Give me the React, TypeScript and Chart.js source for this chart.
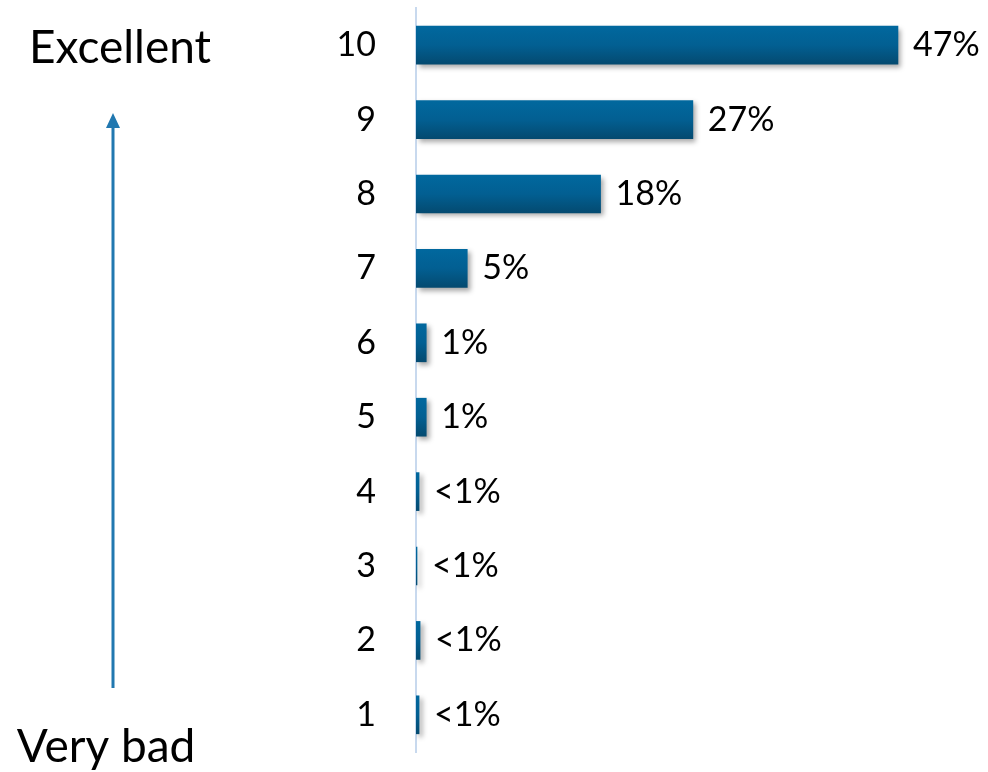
import React, { useEffect, useRef } from "react";
import { Chart, registerables } from "chart.js";

Chart.register(...registerables);

const categories = ["10", "9", "8", "7", "6", "5", "4", "3", "2", "1"];
const shares = [47, 27, 18, 5, 1, 1, 0.3, 0.1, 0.4, 0.3];
const valueLabels = ["47%", "27%", "18%", "5%", "1%", "1%", "<1%", "<1%", "<1%", "<1%"];
const topLabel = "Excellent";
const bottomLabel = "Very bad";

const FONT = "Lato, 'Open Sans', sans-serif";

const decorPlugin = {
  id: "decor",
  beforeDatasetsDraw(chart: any) {
    const ctx = chart.ctx;
    ctx.save();
    ctx.shadowColor = "rgba(0,0,0,0.35)";
    ctx.shadowOffsetX = 3;
    ctx.shadowOffsetY = 3;
    ctx.shadowBlur = 5;
  },
  afterDatasetsDraw(chart: any) {
    const ctx = chart.ctx;
    ctx.restore();
    const meta = chart.getDatasetMeta(0);
    ctx.save();
    ctx.font = `34px ${FONT}`;
    ctx.fillStyle = "#000";
    ctx.textAlign = "left";
    ctx.textBaseline = "middle";
    meta.data.forEach((el: any, i: number) => {
      ctx.fillText(valueLabels[i], el.x + 15, el.y);
    });
    ctx.restore();
  },
  afterDraw(chart: any) {
    const ctx = chart.ctx;
    ctx.save();
    ctx.font = `46px ${FONT}`;
    ctx.fillStyle = "#000";
    ctx.textAlign = "center";
    ctx.textBaseline = "alphabetic";
    ctx.fillText(topLabel, 120, 63);
    ctx.fillText(bottomLabel, 106, 762);
    // arrow
    ctx.strokeStyle = "#2178b0";
    ctx.fillStyle = "#2178b0";
    ctx.lineWidth = 3;
    ctx.beginPath();
    ctx.moveTo(113, 688);
    ctx.lineTo(113, 124);
    ctx.stroke();
    ctx.beginPath();
    ctx.moveTo(113, 113);
    ctx.lineTo(106, 128);
    ctx.lineTo(120, 128);
    ctx.closePath();
    ctx.fill();
    ctx.restore();
  },
};

export default function App() {
  const ref = useRef<HTMLCanvasElement | null>(null);

  useEffect(() => {
    if (!ref.current) return;
    const chart = new Chart(ref.current, {
      type: "bar",
      data: {
        labels: categories,
        datasets: [
          {
            data: shares,
            backgroundColor: (c: any) => {
              const ch = c.chart;
              if (!ch.chartArea || c.type !== "data" || !ch.scales.y) return "#02609a";
              const y = ch.scales.y.getPixelForValue(c.dataIndex);
              const g = ch.ctx.createLinearGradient(0, y - 19, 0, y + 19);
              g.addColorStop(0, "#01689e");
              g.addColorStop(0.5, "#025f92");
              g.addColorStop(1, "#044a70");
              return g;
            },
            borderWidth: 0,
            barThickness: 38,
          },
        ],
      },
      options: {
        indexAxis: "y",
        animation: false,
        responsive: true,
        maintainAspectRatio: false,
        layout: { padding: { top: 8, bottom: 20, left: 0, right: 8 } },
        plugins: {
          legend: { display: false },
          tooltip: { enabled: false },
          title: { display: false },
        },
        scales: {
          x: {
            display: false,
            min: 0,
            max: 55,
          },
          y: {
            afterFit: (scale: any) => {
              scale.width = 416;
              scale.paddingTop = 0;
              scale.paddingBottom = 0;
            },
            grid: { color: "transparent", drawTicks: false },
            border: { display: true, color: "#c8d9ee", width: 2 },
            ticks: {
              padding: 40,
              color: "#000",
              font: { family: FONT, size: 34 },
            },
          },
        },
      },
      plugins: [decorPlugin],
    } as any);
    return () => chart.destroy();
  }, []);

  return (
    <div style={{ position: "fixed", left: 0, top: 0, width: 988, height: 772, background: "#fff" }}>
      <canvas ref={ref} />
    </div>
  );
}
